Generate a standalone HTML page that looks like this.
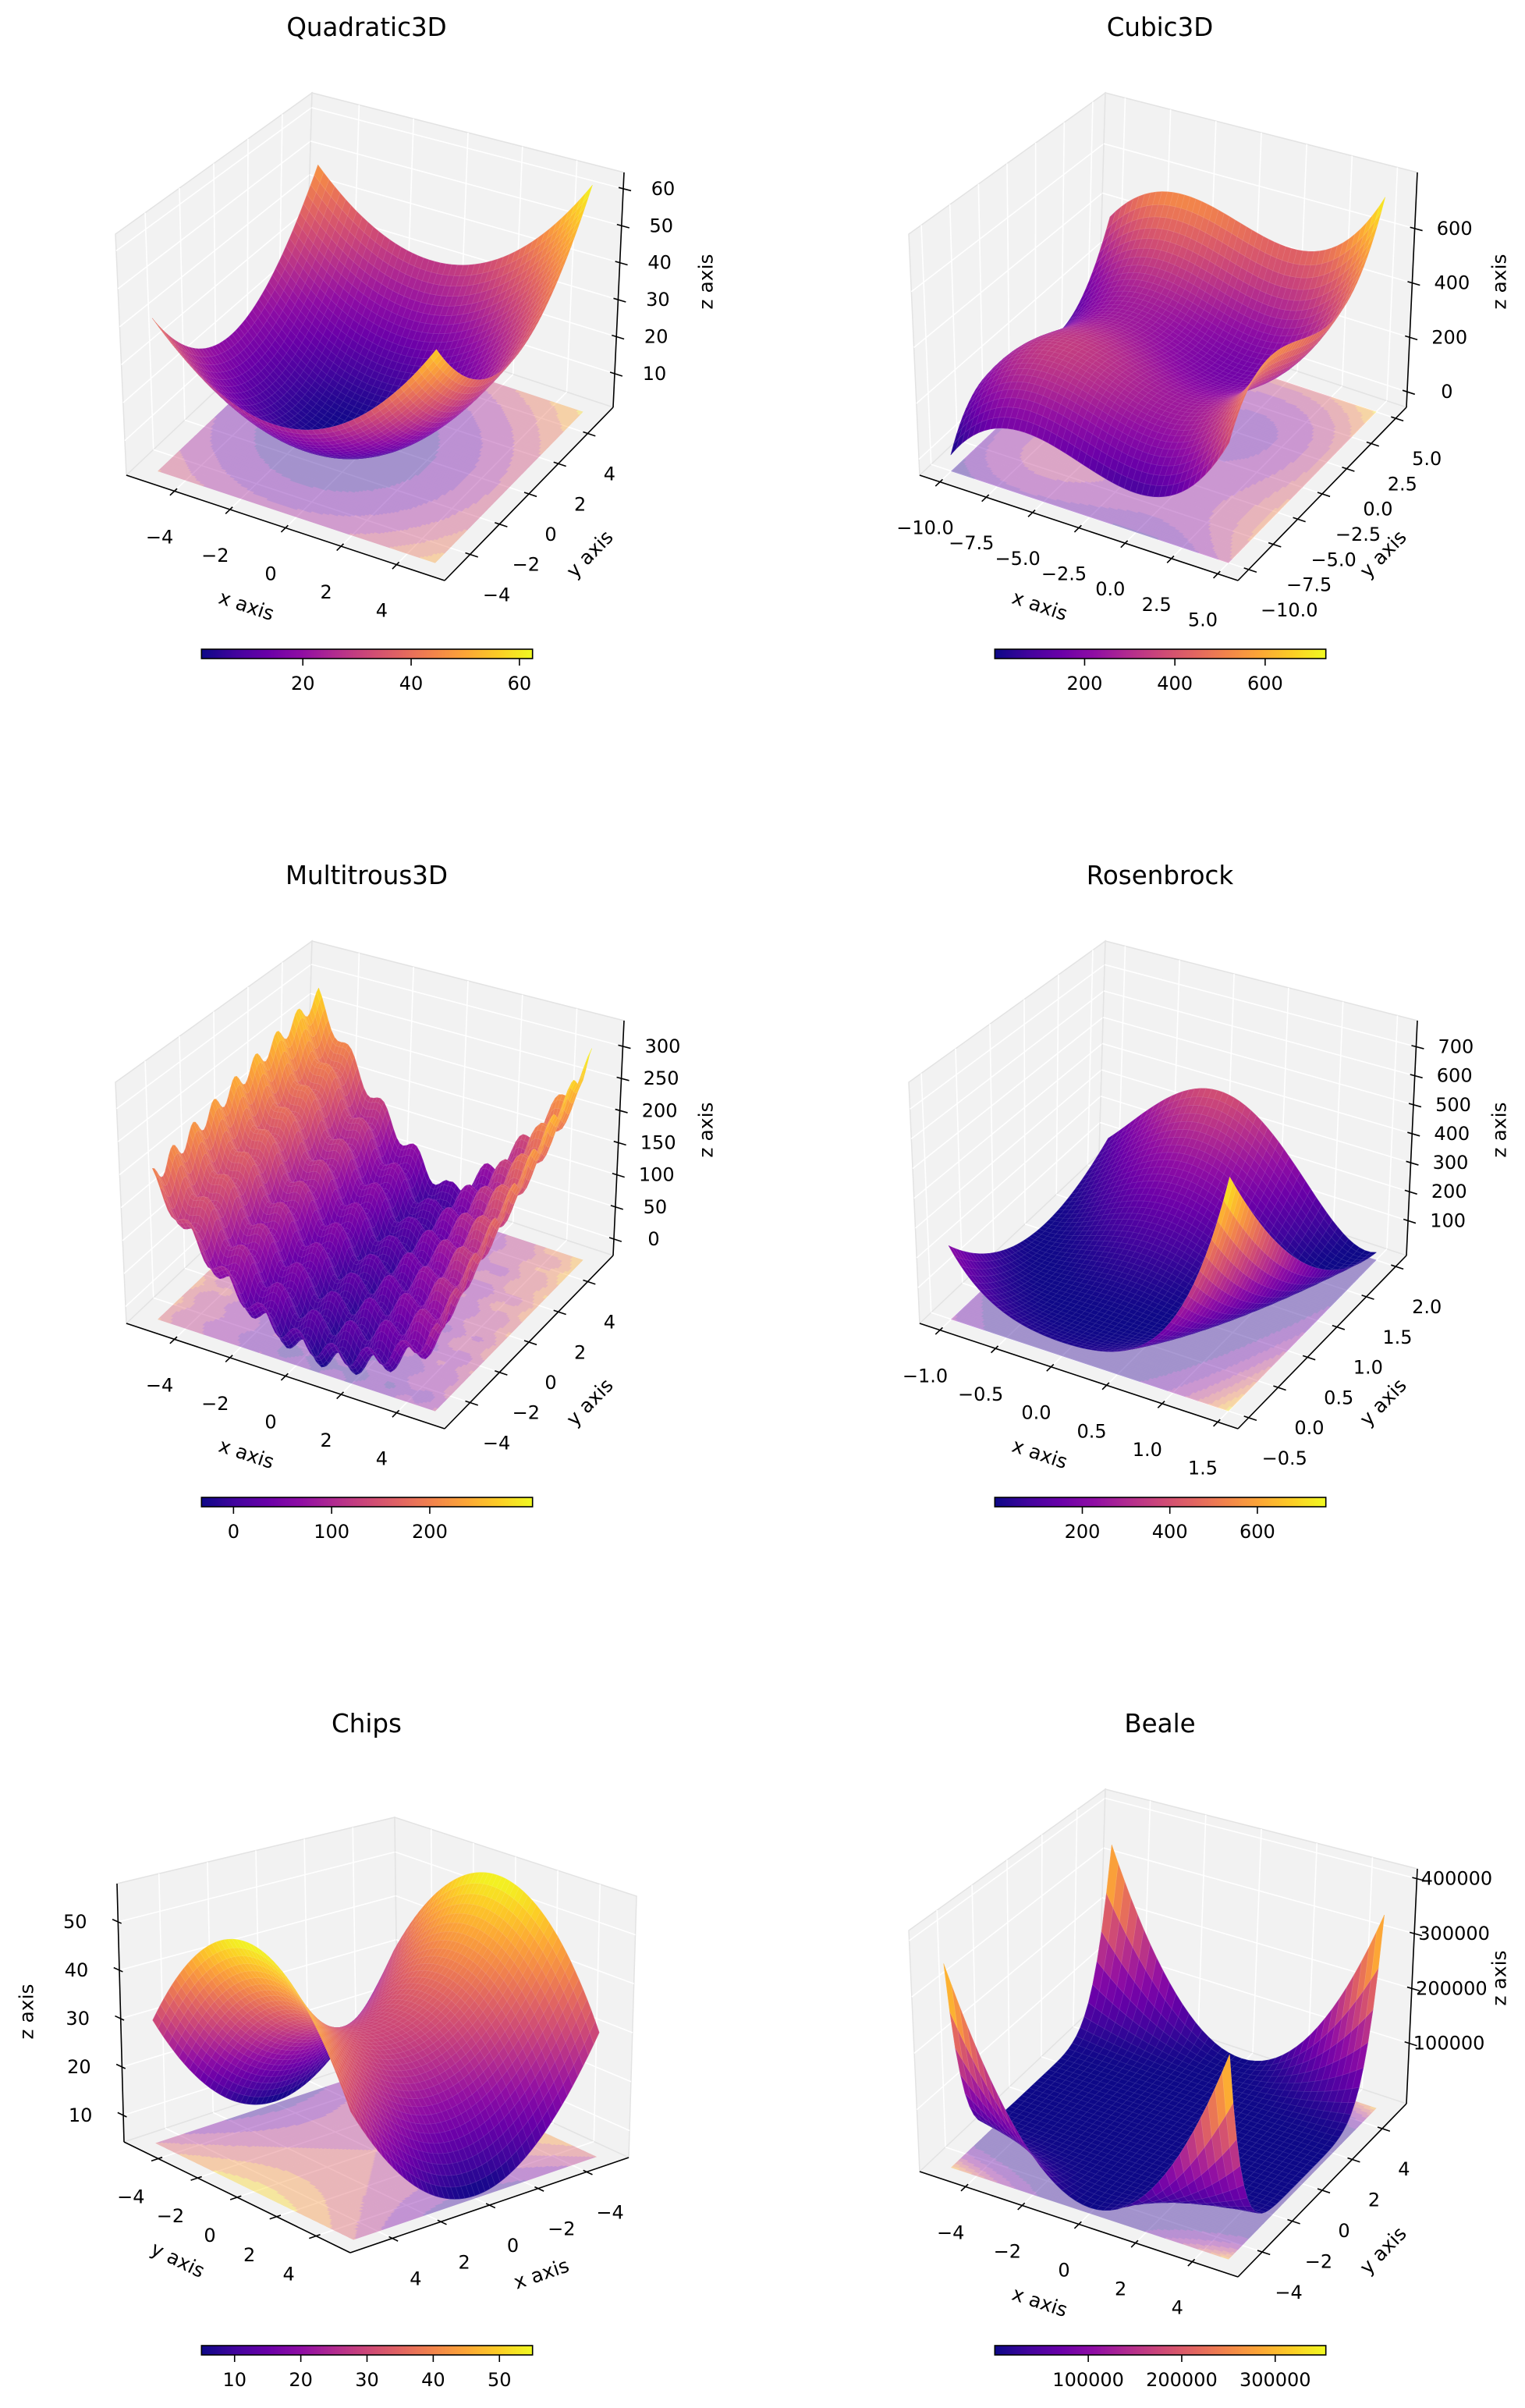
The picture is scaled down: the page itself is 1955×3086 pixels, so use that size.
<!DOCTYPE html>
<html><head><meta charset="utf-8"><style>
html,body{margin:0;padding:0;background:#fff;}
svg{display:block;font-family:"DejaVu Sans","Liberation Sans",sans-serif;}
</style></head><body>
<svg id="fig" xmlns="http://www.w3.org/2000/svg" width="1955" height="3086" viewBox="0 0 1955 3086"><rect width="1955" height="3086" fill="#fff"/></svg>
<script>
const titles = ["Quadratic3D","Cubic3D","Multitrous3D","Rosenbrock","Chips","Beale"];
const xRanges = [[-5,5],[-10,5],[-5,5],[-1,1.5],[-5,5],[-4.9,4.9]];
const yRanges = [[-5,5],[-10,5],[-5,5],[-0.5,2],[-5,5],[-4.9,4.9]];
const zLims = [[0.9,64.4],[-57,806],[-25.6,340],[-20,790],[4.5,57.9],[-10000,418000]];
const xTicks = [[-4,-2,0,2,4],[-10,-7.5,-5,-2.5,0,2.5,5],[-4,-2,0,2,4],[-1,-0.5,0,0.5,1,1.5],[-4,-2,0,2,4],[-4,-2,0,2,4]];
const yTicks = [[-4,-2,0,2,4],[-10,-7.5,-5,-2.5,0,2.5,5],[-4,-2,0,2,4],[-0.5,0,0.5,1,1.5,2],[-4,-2,0,2,4],[-4,-2,0,2,4]];
const zTicks = [[10,20,30,40,50,60],[0,200,400,600],[0,50,100,150,200,250,300],[100,200,300,400,500,600,700],[10,20,30,40,50],[100000,200000,300000,400000]];
const cbTicks = [[20,40,60],[200,400,600],[0,100,200],[200,400,600],[10,20,30,40,50],[100000,200000,300000]];
const tickDecimals = [0,1,0,1,0,0];
const gridN = [48,48,80,48,48,40];
const viewKind = ["std","std","std","std","chips","std"];

function cubicPart(t){ return t*t*t + 9*t*t; }
const surfaces = [
  (x,y)=>x*x+y*y+1.5*x+0.6*y+1.92,
  (x,y)=>0.815*(cubicPart(x)+cubicPart(y)+200)+1,
  (x,y)=>5*x*x-10*x+4*Math.max(x,0)*(y+5)+1.6*Math.max(-x,0)*(y+5)+15*(Math.cos(5*x)+Math.cos(5*y)),
  (x,y)=>(1-x)*(1-x)+100*(y-x*x)*(y-x*x),
  (x,y)=>30+(x*x-y*y),
  (x,y)=>Math.pow(1.5-x+x*y,2)+Math.pow(2.25-x+x*y*y,2)+Math.pow(2.625-x+x*y*y*y,2)
];

const NS="http://www.w3.org/2000/svg";
const svg=document.getElementById('fig');
const plasma=["#0d0887","#41049d","#6a00a8","#8f0da4","#b12a90","#cc4778","#e16462","#f2844b","#fca636","#fcce25","#f0f921"];
function hex2(h){return [parseInt(h.substr(1,2),16),parseInt(h.substr(3,2),16),parseInt(h.substr(5,2),16)];}
const plasmaRGB=plasma.map(hex2);
function cmap(t){t=Math.max(0,Math.min(1,t));const s=t*10;const i=Math.min(9,Math.floor(s));const f=s-i;const a=plasmaRGB[i],b=plasmaRGB[i+1];
 return 'rgb('+Math.round(a[0]+(b[0]-a[0])*f)+','+Math.round(a[1]+(b[1]-a[1])*f)+','+Math.round(a[2]+(b[2]-a[2])*f)+')';}
function mk(parent,tag,attrs){const e=document.createElementNS(NS,tag);for(const k in attrs)e.setAttribute(k,attrs[k]);parent.appendChild(e);return e;}
function fmt(v,d){return (v<0?'\u2212':'')+Math.abs(v).toFixed(d);}

const VIEWS={
 std:{C:[[[[162,609],[148,300]],[[392,392],[400,119]]],[[[570,744],[572,430]],[[786,522],[800,221]]]],
  e:[0.433,-0.75,0.5],
  panes:[[0,0],[1,1],[2,0]],
  axes:[{vary:0,fix:[null,0,0],td:1,tin:0.015,tout:-0.025,lab:(s)=>[-19,59]},
        {vary:1,fix:[1,null,0],td:0,tin:-0.015,tout:0.025,lab:(s)=>[28+(s.length-1)*6,52]},
        {vary:2,fix:[1,1,null],td:0,tin:-0.015,tout:0.025,lab:(s)=>[51,0]}],
  alab:[[316,776,18.3],[756,710,-45.8],[905,361,-90]]},
 chips:{C:[[[[510,455],[506,155]],[[806,591],[816,256]]],[[[159,571],[150,240]],[[449,713],[440,368]]]],
  e:[0.66,0.66,0.34],
  panes:[[1,0],[0,0],[2,0]],
  axes:[{vary:0,fix:[null,1,0],td:1,tin:-0.015,tout:0.025,lab:(s)=>[30,52]},
        {vary:1,fix:[1,null,0],td:0,tin:-0.015,tout:0.025,lab:(s)=>[-35,49]},
        {vary:2,fix:[1,0,null],td:1,tin:0.015,tout:-0.025,lab:(s)=>[-55,0]}],
  alab:[[694,740,-18.9],[228,722,26],[34,404,-90]]}
};

function project(V,org,a){let X=0,Y=0;
 for(let i=0;i<2;i++)for(let j=0;j<2;j++)for(let k=0;k<2;k++){
  const w=(i?a[0]:1-a[0])*(j?a[1]:1-a[1])*(k?a[2]:1-a[2]);X+=w*V.C[i][j][k][0];Y+=w*V.C[i][j][k][1];}
 return [X+org[0],Y+org[1]];}
function f2(p){return p[0].toFixed(1)+','+p[1].toFixed(1);}

function niceStep(r){const raw=r/8;const p=Math.pow(10,Math.floor(Math.log10(raw)));const m=raw/p;
 const s=m<=1?1:m<=2?2:m<=2.5?2.5:m<=5?5:10;return s*p;}

for(let p=0;p<6;p++){
 const col=p%2,row=Math.floor(p/2);
 const org=[col*1017,row*1087];
 const V=VIEWS[viewKind[p]];
 const xr=xRanges[p],yr=yRanges[p];
 const padX=0.073*(xr[1]-xr[0]),padY=0.073*(yr[1]-yr[0]);
 const L=[[xr[0]-padX,xr[1]+padX],[yr[0]-padY,yr[1]+padY],zLims[p]];
 const nz=(d,v)=>(v-L[d][0])/(L[d][1]-L[d][0]);
 const P=(a)=>project(V,org,a);
 const fn=surfaces[p];
 const ticks=[xTicks[p],yTicks[p],zTicks[p]];
 const g=mk(svg,'g',{});
 
 

 const t=mk(g,'text',{x:org[0]+470,y:org[1]+35,'text-anchor':'middle','dominant-baseline':'central','font-size':'32.5',fill:'#000'});
 t.textContent=titles[p];
 
 

 const paneG=mk(g,'g',{});
 
 
 V.panes.forEach(pn=>{
  const f=pn[0],val=pn[1];const o=[0,1,2].filter(d=>d!==f);
  const cs=[[0,0],[1,0],[1,1],[0,1]].map(q=>{const a=[0,0,0];a[f]=val;a[o[0]]=q[0];a[o[1]]=q[1];return P(a);});
  const poly=mk(paneG,'polygon',{points:cs.map(f2).join(' '),fill:'#f2f2f2',stroke:'#e3e3e3','stroke-width':'1.5'});
  
  
  o.forEach((d,idx)=>{const other=o[1-idx];
   ticks[d].forEach(tv=>{const n=nz(d,tv);if(n<0||n>1)return;
    const a=[0,0,0];a[f]=val;a[d]=n;a[other]=0;const b=a.slice();b[other]=1;
    const ln=mk(paneG,'line',{x1:P(a)[0],y1:P(a)[1],x2:P(b)[0],y2:P(b)[1],stroke:'#ffffff','stroke-width':'1.6'});
    
    
   });
  });
 });

 const axNames=['x','y','z'];
 V.axes.forEach((ax,ai)=>{
  const ag=mk(g,'g',{});
  
  
  const a0=ax.fix.slice(),a1=ax.fix.slice();a0[ax.vary]=0;a1[ax.vary]=1;
  const p0=P(a0),p1=P(a1);
  const al=mk(ag,'line',{x1:p0[0],y1:p0[1],x2:p1[0],y2:p1[1],stroke:'#000','stroke-width':'1.6'});
  
  
  const dec=ai===2?0:tickDecimals[p];
  ticks[ai].forEach(tv=>{const n=nz(ai,tv);
   const b=ax.fix.slice();b[ax.vary]=n;const c1=b.slice(),c2=b.slice();
   c1[ax.td]=b[ax.td]+ax.tin;c2[ax.td]=b[ax.td]+ax.tout;
   const q1=P(c1),q2=P(c2),q=P(b);
   const tk=mk(ag,'line',{x1:q1[0],y1:q1[1],x2:q2[0],y2:q2[1],stroke:'#000','stroke-width':'1.6'});
   
   
   const s=fmt(tv,dec);const off=ax.lab(s);
   const tx=mk(ag,'text',{x:(q[0]+off[0]).toFixed(1),y:(q[1]+off[1]).toFixed(1),'text-anchor':'middle','dominant-baseline':'central','font-size':'24',fill:'#000'});
   tx.textContent=s;
   
   
  });
  const lp=V.alab[ai];
  const lt=mk(ag,'text',{x:org[0]+lp[0],y:org[1]+lp[1],'text-anchor':'middle','dominant-baseline':'central','font-size':'25',fill:'#000',transform:'rotate('+lp[2]+' '+(org[0]+lp[0])+' '+(org[1]+lp[1])+')'});
  lt.textContent=axNames[ai]+' axis';
  
  
 });

 const N=gridN[p];
 const xs=[],ys=[];for(let i=0;i<=N;i++){xs.push(xr[0]+(xr[1]-xr[0])*i/N);ys.push(yr[0]+(yr[1]-yr[0])*i/N);}
 const Z=[];let vmin=Infinity,vmax=-Infinity;
 for(let i=0;i<=N;i++){Z.push([]);for(let j=0;j<=N;j++){const z=fn(xs[i],ys[j]);Z[i].push(z);if(z<vmin)vmin=z;if(z>vmax)vmax=z;}}

 const step=niceStep(vmax-vmin);const l0=Math.floor(vmin/step)*step;const nb=Math.max(1,Math.ceil((vmax-l0)/step));
 const cg=mk(g,'g',{opacity:'0.4'});
 
 
 const R=110;
 for(let j=0;j<R;j++){
  const ya=yr[0]+(yr[1]-yr[0])*j/R,yb=yr[0]+(yr[1]-yr[0])*(j+1)/R,yc=(ya+yb)/2;
  let start=0,cur=-1;
  for(let i=0;i<=R;i++){
   let band=-2;
   if(i<R){const xc=xr[0]+(xr[1]-xr[0])*(i+0.5)/R;band=Math.min(nb-1,Math.max(0,Math.floor((fn(xc,yc)-l0)/step)));}
   if(band!==cur){
    if(cur>=0){
     const xa=xr[0]+(xr[1]-xr[0])*start/R,xb=xr[0]+(xr[1]-xr[0])*i/R;
     const pts=[[xa,ya],[xb,ya],[xb,yb],[xa,yb]].map(q=>P([nz(0,q[0]),nz(1,q[1]),0]));
     const c=cmap((cur+0.5)/nb);
     const rr=mk(cg,'polygon',{points:pts.map(f2).join(' '),fill:c,stroke:c,'stroke-width':'0.6'});
     
     
    }
    cur=band;start=i;
   }
  }
 }

 const quads=[];
 for(let i=0;i<N;i++)for(let j=0;j<N;j++){
  const zc=(Z[i][j]+Z[i+1][j]+Z[i+1][j+1]+Z[i][j+1])/4;
  const uc=nz(0,(xs[i]+xs[i+1])/2),vc=nz(1,(ys[j]+ys[j+1])/2),wc=nz(2,zc);
  const depth=V.e[0]*uc+V.e[1]*vc+V.e[2]*wc;
  quads.push([depth,i,j,zc]);
 }
 quads.sort((a,b)=>a[0]-b[0]);
 const sg=mk(g,'g',{});
 
 
 quads.forEach(q=>{const i=q[1],j=q[2];
  const pts=[[i,j],[i+1,j],[i+1,j+1],[i,j+1]].map(c=>P([nz(0,xs[c[0]]),nz(1,ys[c[1]]),nz(2,Z[c[0]][c[1]])]));
  const c=cmap((q[3]-vmin)/(vmax-vmin));
  const pg=mk(sg,'polygon',{points:pts.map(f2).join(' '),fill:c,stroke:c,'stroke-width':'0.5'});
  
  
  const ol=mk(sg,'polygon',{points:pts.map(f2).join(' '),fill:'none',stroke:'rgba(255,255,255,0.12)','stroke-width':'0.7'});
  
  
 });

 const cb=mk(g,'g',{});
 
 
 const gid='grad'+p;
 const defs=mk(cb,'defs',{});
 const lg=mk(defs,'linearGradient',{id:gid,x1:'0',y1:'0',x2:'1',y2:'0'});
 for(let k=0;k<=20;k++){mk(lg,'stop',{offset:(k/20).toFixed(2),'stop-color':cmap(k/20)});}
 const bx=org[0]+258.3,bw=424.4,by=org[1]+832,bh=12;
 const br=mk(cb,'rect',{x:bx,y:by,width:bw,height:bh,fill:'url(#'+gid+')',stroke:'#000','stroke-width':'1.6'});
 
 
 cbTicks[p].forEach(tv=>{const x=bx+(tv-vmin)/(vmax-vmin)*bw;
  const tk=mk(cb,'line',{x1:x,y1:by+bh,x2:x,y2:by+bh+9,stroke:'#000','stroke-width':'1.6'});
  
  
  const tx=mk(cb,'text',{x:x,y:org[1]+876,'text-anchor':'middle','dominant-baseline':'central','font-size':'24',fill:'#000'});
  tx.textContent=fmt(tv,0);
  
  
 });
}
</script>
</body></html>
